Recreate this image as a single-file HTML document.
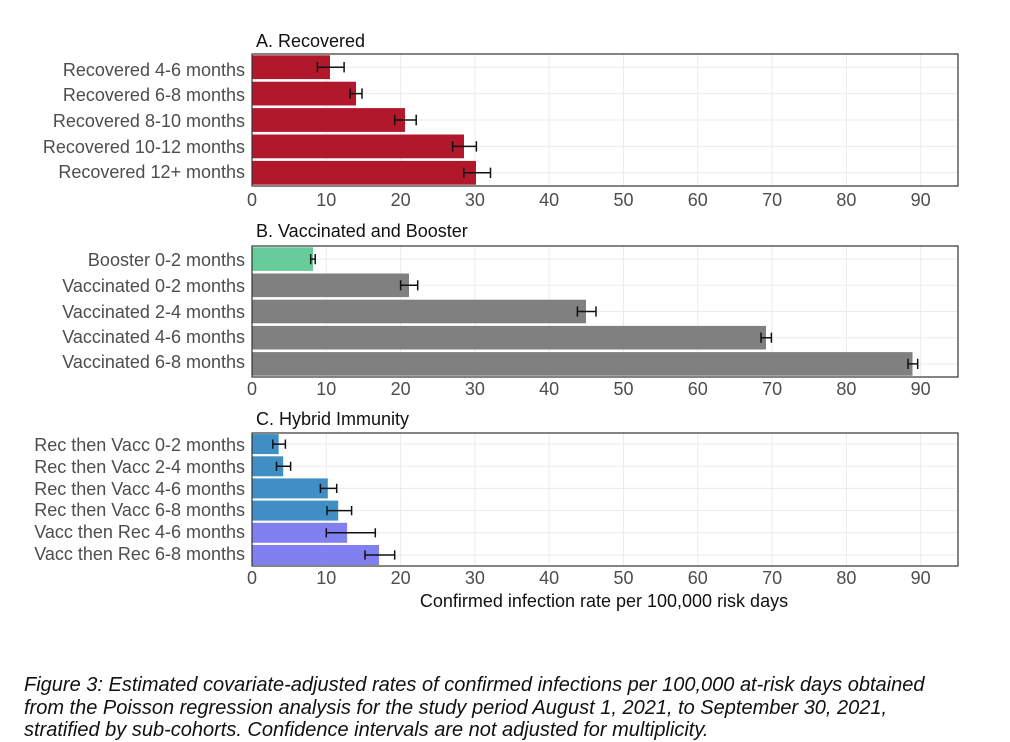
<!DOCTYPE html>
<html><head><meta charset="utf-8"><style>
body{margin:0;background:#fff;width:1010px;height:742px;overflow:hidden}
svg{font-family:"Liberation Sans",sans-serif}
.l{font-size:18px;fill:#4d4d4d;text-anchor:end}
.t{font-size:18px;fill:#4d4d4d;text-anchor:middle}
.h{font-size:18px;fill:#111}
.g{stroke:#ebebeb;stroke-width:1}
.e{stroke:#111;stroke-width:1.5;fill:none}
.cap{position:absolute;left:24px;top:674px;font:italic 20px/22.5px "Liberation Sans",sans-serif;color:#111;white-space:nowrap}
</style></head><body>
<svg width="1010" height="742" style="position:absolute;left:0;top:0">

<!-- Panel A -->
<text class="h" x="256" y="47">A. Recovered</text>
<g>
<path class="g" d="M252 54V186M326.3 54V186M400.6 54V186M474.9 54V186M549.2 54V186M623.5 54V186M697.8 54V186M772.1 54V186M846.4 54V186M920.7 54V186"/>
<path class="g" d="M252 67.2H958M252 93.6H958M252 120H958M252 146.4H958M252 172.8H958"/>
<rect x="252" y="55.3" width="78" height="23.8" fill="#b2182b"/>
<rect x="252" y="81.7" width="104" height="23.8" fill="#b2182b"/>
<rect x="252" y="108.1" width="153" height="23.8" fill="#b2182b"/>
<rect x="252" y="134.5" width="212" height="23.8" fill="#b2182b"/>
<rect x="252" y="160.9" width="224" height="23.8" fill="#b2182b"/>
<path class="e" d="M317.4 67.2H344.1M317.4 62V72.4M344.1 62V72.4"/>
<path class="e" d="M350.1 93.6H362M350.1 88.4V98.8M362 88.4V98.8"/>
<path class="e" d="M394.7 120H416.2M394.7 114.8V125.2M416.2 114.8V125.2"/>
<path class="e" d="M452.6 146.4H476.4M452.6 141.2V151.6M476.4 141.2V151.6"/>
<path class="e" d="M463.8 172.8H490.5M463.8 167.6V178M490.5 167.6V178"/>
<rect x="252" y="54" width="706" height="132" fill="none" stroke="#333" stroke-width="1.2"/>
<text class="l" x="245" y="76">Recovered 4-6 months</text>
<text class="l" x="245" y="101">Recovered 6-8 months</text>
<text class="l" x="245" y="127">Recovered 8-10 months</text>
<text class="l" x="245" y="153">Recovered 10-12 months</text>
<text class="l" x="245" y="178">Recovered 12+ months</text>
<g class="t"><text x="252" y="206">0</text><text x="326.3" y="206">10</text><text x="400.6" y="206">20</text><text x="474.9" y="206">30</text><text x="549.2" y="206">40</text><text x="623.5" y="206">50</text><text x="697.8" y="206">60</text><text x="772.1" y="206">70</text><text x="846.4" y="206">80</text><text x="920.7" y="206">90</text></g>
</g>

<!-- Panel B -->
<text class="h" x="256" y="237">B. Vaccinated and Booster</text>
<g>
<path class="g" d="M252 246V377M326.3 246V377M400.6 246V377M474.9 246V377M549.2 246V377M623.5 246V377M697.8 246V377M772.1 246V377M846.4 246V377M920.7 246V377"/>
<path class="g" d="M252 259.1H958M252 285.3H958M252 311.5H958M252 337.7H958M252 363.9H958"/>
<rect x="252" y="247.3" width="61" height="23.6" fill="#66cc99"/>
<rect x="252" y="273.5" width="157" height="23.6" fill="#808080"/>
<rect x="252" y="299.7" width="334" height="23.6" fill="#808080"/>
<rect x="252" y="325.9" width="514" height="23.6" fill="#808080"/>
<rect x="252" y="352.1" width="660.5" height="23.6" fill="#808080"/>
<path class="e" d="M310.7 259.1H315.2M310.7 254V264.2M315.2 254V264.2"/>
<path class="e" d="M400.6 285.3H417.7M400.6 280.2V290.4M417.7 280.2V290.4"/>
<path class="e" d="M577.4 311.5H596M577.4 306.4V316.6M596 306.4V316.6"/>
<path class="e" d="M761 337.7H771.4M761 332.6V342.8M771.4 332.6V342.8"/>
<path class="e" d="M908 363.9H917.7M908 358.8V369M917.7 358.8V369"/>
<rect x="252" y="246" width="706" height="131" fill="none" stroke="#333" stroke-width="1.2"/>
<text class="l" x="245" y="266">Booster 0-2 months</text>
<text class="l" x="245" y="292">Vaccinated 0-2 months</text>
<text class="l" x="245" y="318">Vaccinated 2-4 months</text>
<text class="l" x="245" y="343">Vaccinated 4-6 months</text>
<text class="l" x="245" y="368">Vaccinated 6-8 months</text>
<g class="t"><text x="252" y="395">0</text><text x="326.3" y="395">10</text><text x="400.6" y="395">20</text><text x="474.9" y="395">30</text><text x="549.2" y="395">40</text><text x="623.5" y="395">50</text><text x="697.8" y="395">60</text><text x="772.1" y="395">70</text><text x="846.4" y="395">80</text><text x="920.7" y="395">90</text></g>
</g>

<!-- Panel C -->
<text class="h" x="256" y="425">C. Hybrid Immunity</text>
<g>
<path class="g" d="M252 433V566M326.3 433V566M400.6 433V566M474.9 433V566M549.2 433V566M623.5 433V566M697.8 433V566M772.1 433V566M846.4 433V566M920.7 433V566"/>
<path class="g" d="M252 444.1H958M252 466.3H958M252 488.4H958M252 510.6H958M252 532.8H958M252 555H958"/>
<rect x="252" y="434.1" width="26.7" height="20" fill="#3f8fc5"/>
<rect x="252" y="456.3" width="31.2" height="20" fill="#3f8fc5"/>
<rect x="252" y="478.4" width="75.8" height="20" fill="#3f8fc5"/>
<rect x="252" y="500.6" width="86.2" height="20" fill="#3f8fc5"/>
<rect x="252" y="522.8" width="95.1" height="20" fill="#8080f0"/>
<rect x="252" y="545" width="127" height="20" fill="#8080f0"/>
<path class="e" d="M272.8 444.1H285.4M272.8 439.5V448.7M285.4 439.5V448.7"/>
<path class="e" d="M276.5 466.3H290.6M276.5 461.7V470.9M290.6 461.7V470.9"/>
<path class="e" d="M320.4 488.4H336.7M320.4 483.8V493M336.7 483.8V493"/>
<path class="e" d="M327 510.6H351.6M327 506V515.2M351.6 506V515.2"/>
<path class="e" d="M326.3 532.8H375.3M326.3 528.2V537.4M375.3 528.2V537.4"/>
<path class="e" d="M365 555H394.7M365 550.4V559.6M394.7 550.4V559.6"/>
<rect x="252" y="433" width="706" height="133" fill="none" stroke="#333" stroke-width="1.2"/>
<text class="l" x="245" y="451">Rec then Vacc 0-2 months</text>
<text class="l" x="245" y="473">Rec then Vacc 2-4 months</text>
<text class="l" x="245" y="495">Rec then Vacc 4-6 months</text>
<text class="l" x="245" y="516">Rec then Vacc 6-8 months</text>
<text class="l" x="245" y="538">Vacc then Rec 4-6 months</text>
<text class="l" x="245" y="560">Vacc then Rec 6-8 months</text>
<g class="t"><text x="252" y="584">0</text><text x="326.3" y="584">10</text><text x="400.6" y="584">20</text><text x="474.9" y="584">30</text><text x="549.2" y="584">40</text><text x="623.5" y="584">50</text><text x="697.8" y="584">60</text><text x="772.1" y="584">70</text><text x="846.4" y="584">80</text><text x="920.7" y="584">90</text></g>
<text x="604" y="607" style="font-size:18px;fill:#111;text-anchor:middle">Confirmed infection rate per 100,000 risk days</text>
</g>
</svg>
<div class="cap">Figure 3: Estimated covariate-adjusted rates of confirmed infections per 100,000 at-risk days obtained<br>from the Poisson regression analysis for the study period August 1, 2021, to September 30, 2021,<br>stratified by sub-cohorts. Confidence intervals are not adjusted for multiplicity.</div>
</body></html>
